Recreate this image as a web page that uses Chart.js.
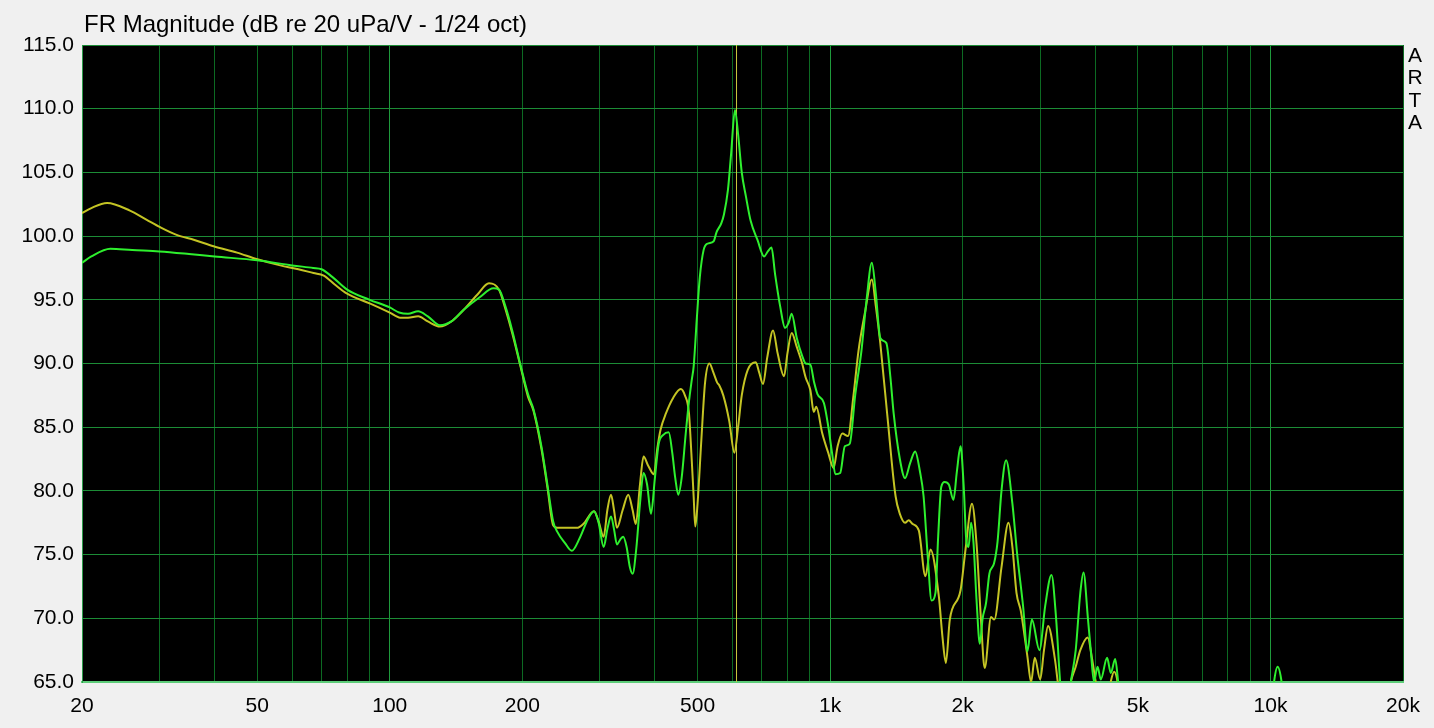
<!DOCTYPE html>
<html>
<head>
<meta charset="utf-8">
<title>FR Magnitude</title>
<script src="https://cdn.jsdelivr.net/npm/chart.js@4.4.1/dist/chart.umd.min.js"></script>
<style>
  html, body { margin: 0; padding: 0; background: #f0f0f0; }
  #wrap { position: relative; width: 1434px; height: 728px; }
</style>
</head>
<body>
<div id="wrap"><canvas id="fr" width="1434" height="728"></canvas></div>
<script>
// --- data ---
const greenFreq = [20, 21, 23.2, 26, 30, 35, 40, 50, 60, 67, 70, 74, 80, 90, 100, 105, 110, 116, 122, 130, 138, 147, 160, 172, 177, 183, 190, 198,
  206, 212, 221, 228, 235, 240, 250, 259, 270, 282, 291, 298, 306, 312, 318, 323, 328, 334, 339, 345, 351, 356, 363, 370, 377, 384, 392,
  400, 408, 418, 430, 438, 445, 452, 460, 470, 478, 485, 490, 498, 506, 516, 526, 544, 552, 566, 574, 586, 596, 608, 618, 630, 644, 660,
  684, 708, 722, 736, 750, 770, 790, 805, 818, 840, 864, 880, 902, 920, 936, 968, 990, 1010, 1028, 1054, 1080, 1108, 1140, 1178, 1210,
  1244, 1270, 1300, 1342, 1370, 1394, 1440, 1480, 1520, 1560, 1600, 1630, 1665, 1700, 1735, 1760, 1788, 1820, 1860, 1906, 1940, 1978,
  2010, 2040, 2062, 2090, 2116, 2150, 2188, 2220, 2260, 2300, 2356, 2400, 2450, 2510, 2594, 2660, 2744, 2806, 2872, 2988, 3080, 3182,
  3260, 3330, 3410, 3520, 3612, 3700, 3762, 3850, 3908, 3974, 4050, 4118, 4256, 4340, 4440, 4510, 4600, 10000, 10190, 10380, 10600, 10800];
const greenDb = [97.9, 98.4, 99.0, 98.9, 98.8, 98.6, 98.4, 98.1, 97.7, 97.5, 97.4, 96.8, 95.8, 95.0, 94.4, 94.0, 93.9, 94.1, 93.7, 93.0, 93.3, 94.2, 95.2, 95.9, 95.8, 94.5, 92.5, 89.9,
  87.6, 86.4, 83.5, 80.5, 77.6, 76.8, 75.9, 75.3, 76.3, 77.8, 78.4, 77.5, 75.6, 77.0, 78.0, 77.0, 75.8, 76.2, 76.4, 75.6, 74.0, 73.5, 75.5, 79.0, 81.4, 80.5, 78.2,
  81.0, 83.7, 84.4, 84.6, 83.0, 81.0, 79.7, 81.0, 84.5, 87.0, 88.7, 89.8, 93.5, 96.8, 98.9, 99.4, 99.6, 100.3, 101.0, 101.7, 103.6, 106.5, 109.9, 108.0, 105.0, 103.1, 101.2,
  99.7, 98.4, 98.8, 99.1, 97.0, 94.5, 92.8, 93.2, 93.9, 92.0, 90.6, 90.0, 89.9, 88.5, 87.6, 86.9, 85.1, 83.0, 81.3, 81.4, 83.5, 83.7, 87.5, 91.0, 95.0,
  97.9, 95.5, 92.0, 91.6, 89.0, 86.1, 82.5, 81.0, 82.2, 83.1, 81.5, 79.6, 75.0, 71.4, 72.0, 76.5, 80.3, 80.7, 80.5, 79.3, 81.5, 83.5,
  80.5, 76.0, 75.6, 77.5, 76.0, 71.5, 68.0, 70.0, 71.2, 73.5, 74.3, 76.0, 80.0, 82.4, 79.0, 75.0, 70.9, 67.4, 69.9, 67.5, 71.0, 73.4,
  70.0, 65.0, 62.0, 65.0, 67.5, 72.0, 73.6, 70.0, 67.5, 65.0, 66.2, 65.2, 66.9, 65.7, 66.8, 65.0, 62.0, 62.0, 65.0, 66.2, 65.0, 62.0];

const yellowFreq = [20, 21, 22.8, 25.7, 28, 30.1, 32.8, 36, 39.8, 45, 49.8, 56.4, 62, 67.1, 70.8, 75, 79.8, 90.3, 100, 105.6, 110, 116, 122, 130, 138, 147, 158, 168,
  177, 183, 190, 198, 206, 212, 221, 228, 235, 240, 266, 275, 291, 298, 306, 312, 318, 323, 328, 338, 348, 356, 362, 370, 377, 386, 398,
  405, 412, 424, 440, 458, 468, 478, 484, 490, 494, 500, 510, 520, 532, 543, 554, 560, 572, 590, 606, 618, 630, 650, 678, 690, 704, 720,
  742, 760, 786, 800, 818, 840, 864, 880, 902, 918, 930, 960, 990, 1018, 1040, 1066, 1098, 1130, 1160, 1200, 1244, 1270, 1300, 1348, 1408,
  1440, 1480, 1508, 1540, 1590, 1646, 1690, 1766, 1800, 1832, 1870, 1978, 2030, 2100, 2150, 2200, 2244, 2320, 2360, 2450, 2542, 2594,
  2650, 2710, 2806, 2860, 2916, 3000, 3060, 3126, 3243, 3289, 3400, 3520, 3612, 3700, 3846, 3940, 4012, 4150, 4300, 4416, 4496, 4600];
const yellowDb = [101.8, 102.2, 102.6, 102.0, 101.3, 100.7, 100.1, 99.7, 99.2, 98.7, 98.2, 97.7, 97.4, 97.1, 96.9, 96.2, 95.5, 94.7, 94.0, 93.6, 93.6, 93.7, 93.3, 92.9, 93.3, 94.2, 95.4, 96.3,
  95.8, 94.3, 92.3, 89.8, 87.4, 86.3, 83.3, 80.3, 77.3, 77.1, 77.1, 77.4, 78.4, 77.6, 76.4, 78.5, 79.7, 78.5, 77.1, 78.5, 79.7, 78.5, 77.4, 80.5, 82.7, 82.0, 81.3,
  83.3, 84.8, 86.1, 87.3, 88.0, 87.5, 86.1, 83.0, 79.5, 77.2, 79.0, 84.0, 88.5, 90.0, 89.3, 88.5, 88.3, 87.5, 85.5, 83.0, 85.0, 87.5, 89.5, 90.1, 89.3, 88.4, 90.5,
  92.6, 90.8, 89.0, 90.8, 92.4, 91.3, 90.0, 88.9, 87.9, 86.2, 86.6, 84.5, 83.0, 81.8, 83.5, 84.5, 84.3, 87.5, 91.0, 94.0, 96.6, 94.5, 91.6, 86.0, 79.6,
  78.2, 77.5, 77.7, 77.4, 76.9, 73.3, 75.4, 71.7, 68.5, 66.5, 69.9, 72.2, 75.4, 79.0, 75.9, 70.0, 66.1, 70.1, 69.9, 74.0, 77.5, 75.6,
  72.0, 70.6, 67.0, 65.0, 66.9, 65.2, 67.5, 69.4, 66.7, 65.0, 62.0, 65.0, 66.2, 67.5, 68.5, 66.7, 65.0, 63.0, 64.5, 65.8, 65.0, 62.0];

const cursorFreq = 613;

const freqTicks = [20, 30, 40, 50, 60, 70, 80, 90, 100, 200, 300, 400, 500, 600, 700, 800, 900,
  1000, 2000, 3000, 4000, 5000, 6000, 7000, 8000, 9000, 10000, 20000];
const freqLabels = { 20: "20", 50: "50", 100: "100", 200: "200", 500: "500", 1000: "1k", 2000: "2k", 5000: "5k", 10000: "10k", 20000: "20k" };
const decadeTicks = [100, 1000, 10000];

const toPoints = (fs, ds) => fs.map((f, i) => ({ x: f, y: ds[i] }));
const FONT = "Arial, 'Liberation Sans', sans-serif";

// black plot area + title + ARTA tag
const artaFrame = {
  id: "artaFrame",
  beforeDraw(chart) {
    const { ctx, chartArea: a } = chart;
    ctx.save();
    ctx.fillStyle = "#000";
    ctx.fillRect(a.left, a.top, a.right - a.left, a.bottom - a.top);
    ctx.restore();
  },
  afterDraw(chart) {
    const ctx = chart.ctx;
    ctx.save();
    ctx.fillStyle = "#000";
    ctx.font = "24px " + FONT;
    ctx.textBaseline = "middle";
    ctx.textAlign = "left";
    ctx.fillText("FR Magnitude (dB re 20 uPa/V - 1/24 oct)", 84, 25);
    ctx.font = "21px " + FONT;
    ctx.textAlign = "center";
    ["A", "R", "T", "A"].forEach((c, i) => ctx.fillText(c, 1415, 56 + i * 22.4));
    ctx.restore();
  },
};

new Chart(document.getElementById("fr"), {
  type: "line",
  data: {
    datasets: [
      {
        label: "green",
        data: toPoints(greenFreq, greenDb),
        borderColor: "#2ef02e",
        borderWidth: 2,
        pointRadius: 0,
        cubicInterpolationMode: "monotone",
      },
      {
        label: "yellow",
        data: toPoints(yellowFreq, yellowDb),
        borderColor: "#c4c424",
        borderWidth: 2,
        pointRadius: 0,
        cubicInterpolationMode: "monotone",
      },
      {
        label: "cursor",
        data: [{ x: cursorFreq, y: 65 }, { x: cursorFreq, y: 115 }],
        borderColor: "#c8c83c",
        borderWidth: 1,
        pointRadius: 0,
      },
    ],
  },
  options: {
    responsive: false,
    animation: false,
    layout: { padding: { top: 45, right: 31, left: 0, bottom: 0 } },
    plugins: { legend: { display: false }, tooltip: { enabled: false } },
    scales: {
      x: {
        type: "logarithmic",
        min: 20,
        max: 20000,
        afterBuildTicks: (axis) => { axis.ticks = freqTicks.map((v) => ({ value: v })); },
        afterFit: (axis) => { axis.height = 46; },
        grid: {
          drawTicks: false,
          lineWidth: 1,
          color: (c) => (c.tick && decadeTicks.includes(c.tick.value) ? "#1f9a3c" : "#0c6a22"),
        },
        border: { color: "#5ccc78", width: 2 },
        ticks: {
          autoSkip: false,
          maxRotation: 0,
          minRotation: 0,
          padding: 12,
          color: "#000",
          font: { family: FONT, size: 21 },
          callback: (v) => freqLabels[v] || "",
        },
      },
      y: {
        min: 65,
        max: 115,
        afterFit: (axis) => { axis.width = 82; },
        grid: { drawTicks: false, color: "#1c8c36" },
        border: { color: "#2a9a48" },
        ticks: {
          stepSize: 5,
          padding: 8,
          color: "#000",
          font: { family: FONT, size: 21 },
          callback: (v) => v.toFixed(1),
        },
      },
    },
  },
  plugins: [artaFrame],
});
</script>
</body>
</html>
